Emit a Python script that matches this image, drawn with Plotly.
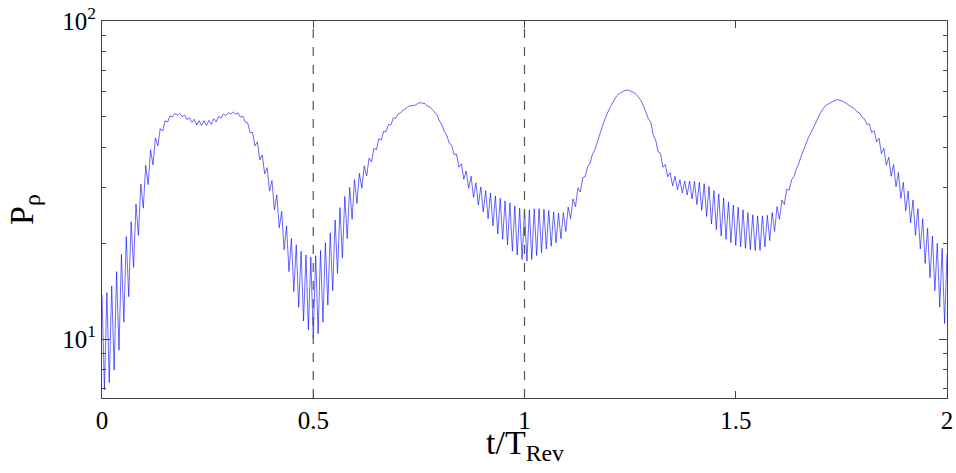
import numpy as np
import plotly.graph_objects as go

t_start, t_end = 0.0, 2.0
p_rho = [
    13.8, 6.93, 14.0, 7.30, 14.7, 8.0, 16.3, 9.23, 18.5, 11.3,
    21.0, 13.6, 23.4, 16.8, 26.6, 21.2, 30.7, 25.8, 35.2, 30.6,
    39.4, 35.3, 42.9, 40.5, 45.9, 45.1, 48.6, 48.1, 50.3, 50.0,
    51.2, 50.6, 51.3, 50.0, 50.6, 49.0, 49.6, 48.0, 49.1, 47.1,
    48.6, 46.9, 48.6, 46.9, 48.7, 47.3, 49.3, 48.2, 50.1, 49.5,
    51.0, 50.4, 51.5, 51.0, 51.8, 51.0, 51.4, 49.9, 50.2, 48.1,
    47.9, 44.5, 44.7, 40.5, 41.7, 36.6, 37.9, 33.1, 34.6, 29.2,
    31.5, 25.5, 28.4, 22.4, 25.2, 19.1, 22.7, 16.3, 20.7, 14.1,
    19.8, 12.6, 18.9, 11.4, 18.4, 10.7, 18.1, 10.1, 18.3, 10.4,
    19.0, 11.3, 20.1, 12.8, 21.6, 14.2, 23.7, 16.1, 25.9, 18.0,
    28.1, 20.7, 30.0, 23.8, 31.7, 26.7, 33.2, 29.8, 35.0, 32.6,
    37.1, 36.1, 39.8, 39.4, 42.7, 42.2, 45.0, 44.9, 47.3, 47.2,
    49.6, 49.5, 51.1, 51.4, 52.5, 52.9, 53.9, 54.0, 54.3, 54.4,
    55.0, 55.4, 55.2, 55.0, 54.0, 53.7, 52.7, 51.6, 50.6, 48.5,
    47.1, 44.9, 43.7, 41.3, 40.7, 38.0, 38.2, 34.7, 35.6, 31.8,
    33.8, 29.8, 32.5, 27.9, 31.0, 26.4, 30.1, 25.1, 29.3, 23.9,
    28.8, 22.7, 28.2, 21.4, 27.7, 20.6, 27.2, 19.8, 26.8, 18.9,
    26.2, 18.4, 25.8, 17.8, 25.5, 17.6, 25.5, 17.8, 25.7, 18.3,
    25.7, 18.7, 25.6, 19.2, 25.4, 19.6, 25.1, 20.1, 24.9, 20.7,
    25.0, 21.8, 26.0, 23.9, 27.6, 26.1, 29.9, 29.0, 32.2, 32.4,
    34.9, 35.7, 38.2, 39.4, 41.9, 43.7, 46.5, 48.9, 51.1, 53.1,
    54.8, 56.5, 58.2, 59.1, 59.8, 60.3, 60.6, 60.6, 60.0, 59.6,
    58.8, 57.5, 56.2, 54.1, 51.8, 49.3, 48.1, 43.8, 42.3, 38.8,
    38.4, 34.7, 35.4, 32.4, 33.4, 30.3, 32.5, 29.5, 31.7, 28.8,
    31.4, 28.4, 31.4, 27.6, 31.3, 26.5, 31.1, 25.4, 30.8, 24.3,
    30.2, 23.0, 29.3, 22.1, 28.6, 21.1, 27.8, 20.6, 27.0, 20.1,
    26.4, 19.7, 26.0, 19.5, 25.5, 19.3, 25.0, 19.1, 24.6, 19.0,
    24.4, 19.0, 24.4, 19.5, 24.5, 20.4, 25.0, 21.8, 26.1, 23.8,
    27.4, 26.5, 29.6, 29.4, 31.7, 32.5, 34.3, 35.7, 37.7, 39.4,
    41.6, 43.1, 44.6, 46.3, 48.3, 50.2, 51.6, 53.0, 54.2, 54.8,
    55.4, 55.9, 56.3, 56.6, 56.4, 56.0, 55.4, 54.7, 54.1, 53.4,
    52.9, 51.8, 51.4, 49.8, 49.3, 47.3, 47.5, 44.6, 45.2, 41.7,
    42.8, 38.3, 39.8, 35.2, 37.3, 32.5, 35.4, 30.1, 33.4, 27.7,
    31.1, 25.3, 29.2, 23.2, 27.4, 21.2, 25.7, 19.2, 23.9, 17.3,
    22.3, 15.6, 21.1, 14.2, 20.0, 12.6, 19.3, 11.2, 18.5,
]
t = np.linspace(t_start, t_end, len(p_rho))

x_ticks = [0, 0.5, 1, 1.5, 2]
x_tick_labels = ["0", "0.5", "1", "1.5", "2"]
y_ticks = [10, 100]
y_tick_labels = ["10<sup>1</sup>", "10<sup>2</sup>"]
y_minor_ticks = [7, 8, 9, 20, 30, 40, 50, 60, 70, 80, 90]
ref_lines = [0.5, 1.0]
x_title = "t/T<sub>Rev</sub>"
y_title = "P<sub>ρ</sub>"

FONT = "Liberation Serif, Times New Roman, serif"
AXC = "#444444"

fig = go.Figure()
fig.add_trace(go.Scatter(x=t, y=p_rho, mode="lines",
                         line=dict(color="#0000ff", width=0.6),
                         showlegend=False, hoverinfo="skip"))

for xv in ref_lines:
    fig.add_shape(type="line", xref="x", yref="paper", x0=xv, x1=xv, y0=0, y1=1,
                  line=dict(color="#555555", width=1.2, dash="dash"))

fig.add_annotation(text=x_title, xref="paper", yref="paper", x=0.5, y=-0.063,
                   xanchor="center", yanchor="top", showarrow=False,
                   font=dict(family=FONT, size=34, color="black"))

fig.update_layout(
    width=956, height=473,
    margin=dict(l=102, r=9, t=21, b=75, autoexpand=False),
    paper_bgcolor="white", plot_bgcolor="white",
    font=dict(family=FONT, color="black", size=25),
    xaxis=dict(
        range=[0, 2], tickvals=x_ticks, ticktext=x_tick_labels,
        ticks="inside", ticklen=7, tickcolor=AXC, tickwidth=1,
        showline=True, linecolor=AXC, linewidth=1, mirror="allticks",
        showgrid=False, zeroline=False, automargin=False,
        tickfont=dict(family=FONT, size=25, color="black"),
    ),
    yaxis=dict(
        type="log", range=[0.815, 2], tickvals=y_ticks, ticktext=y_tick_labels,
        ticks="inside", ticklen=8, tickcolor=AXC, tickwidth=1,
        minor=dict(tickvals=y_minor_ticks, ticks="inside", ticklen=4, tickcolor=AXC, showgrid=False),
        showline=True, linecolor=AXC, linewidth=1, mirror="allticks",
        showgrid=False, zeroline=False, automargin=False,
        tickfont=dict(family=FONT, size=25, color="black"),
        title=dict(text=y_title, font=dict(family=FONT, size=34), standoff=18),
    ),
)

fig.write_html("out.html")
